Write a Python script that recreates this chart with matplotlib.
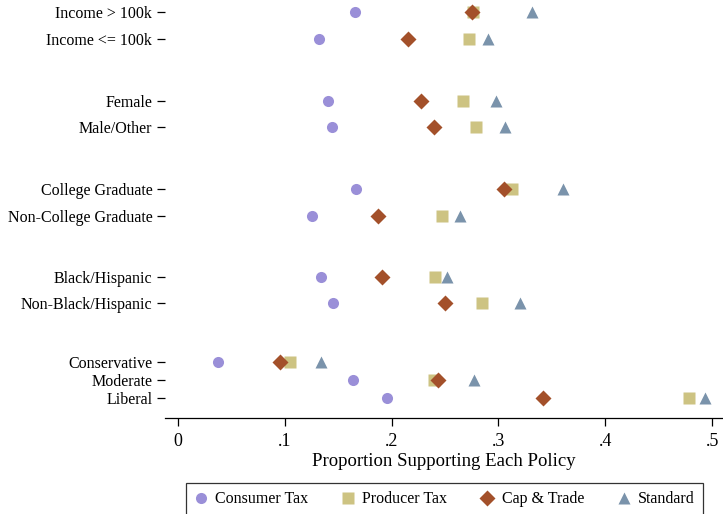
import matplotlib
matplotlib.use("Agg")
import matplotlib.pyplot as plt
import numpy as np

plt.rcParams['font.family'] = ['Liberation Serif', 'DejaVu Serif']

# groups, top to bottom
groups = ["Income > 100k", "Income <= 100k", "Female", "Male/Other",
          "College Graduate", "Non-College Graduate", "Black/Hispanic",
          "Non-Black/Hispanic", "Conservative", "Moderate", "Liberal"]
# row positions (rows grouped in pairs, ideology packed tighter)
rows = [0, 1, 3.3, 4.26, 6.56, 7.56, 9.81, 10.78, 12.96, 13.63, 14.3]

consumer = [0.166, 0.132, 0.141, 0.144, 0.167, 0.126, 0.134, 0.145, 0.038, 0.164, 0.196]
producer = [0.276, 0.272, 0.267, 0.279, 0.313, 0.247, 0.241, 0.285, 0.105, 0.240, 0.478]
captrade = [0.275, 0.215, 0.228, 0.240, 0.305, 0.187, 0.191, 0.250, 0.096, 0.243, 0.342]
standard = [0.331, 0.290, 0.298, 0.306, 0.360, 0.264, 0.252, 0.320, 0.134, 0.277, 0.493]

fig = plt.figure(figsize=(7.23, 5.14), dpi=100)
ax = fig.add_axes([0.228, 0.187, 0.772, 0.813])

ax.plot(consumer, rows, 'o', color='#9a8fd8', ms=8, mec='none', label='Consumer Tax')
ax.plot(producer, rows, 's', color='#cdc382', ms=8, mec='none', label='Producer Tax')
ax.plot(captrade, rows, 'D', color='#a3502a', ms=8, mec='none', label='Cap & Trade')
ax.plot(standard, rows, '^', color='#7a93ab', ms=9, mec='none', label='Standard')

ax.set_ylim(15.04, -0.44)
ax.set_xlim(-0.012, 0.51)
ax.set_yticks(rows)
ax.set_yticklabels(groups, fontsize=11.5)
ax.set_xticks([0, 0.1, 0.2, 0.3, 0.4, 0.5])
ax.set_xticklabels(['0', '.1', '.2', '.3', '.4', '.5'], fontsize=13)
ax.set_xlabel('Proportion Supporting Each Policy', fontsize=13.5, labelpad=2)

for s in ['top', 'right', 'left']:
    ax.spines[s].set_visible(False)
ax.spines['bottom'].set_linewidth(0.9)
ax.tick_params(axis='y', length=6, width=0.9, pad=3)
ax.tick_params(axis='x', length=6, width=0.9, pad=5)

leg = fig.legend(loc='upper center', bbox_to_anchor=(0.615, 0.075), ncol=4,
                 fontsize=11.5, frameon=True, fancybox=False, edgecolor='black',
                 handletextpad=0.5, columnspacing=2.1, borderpad=0.5, handlelength=0.8)
leg.get_frame().set_linewidth(0.9)

fig.savefig('out.png', dpi=100)
